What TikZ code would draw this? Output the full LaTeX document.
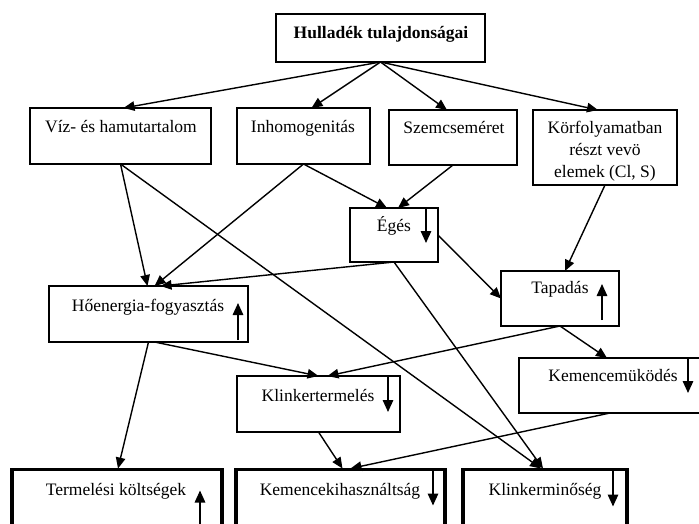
\documentclass[tikz,border=0pt]{standalone}
\usepackage{fontspec}
\setmainfont{Liberation Serif}
\usetikzlibrary{arrows.meta,calc}
\begin{document}
\begin{tikzpicture}[x=1pt,y=-1pt,
  box/.style={draw, line width=1.6pt, inner sep=0pt, outer sep=0pt},
  thickbox/.style={draw, line width=3.4pt, inner sep=0pt, outer sep=0pt},
  topbox/.style={draw, line width=2.3pt, inner sep=0pt, outer sep=0pt},
  lbl/.style={inner sep=0pt, anchor=base, font=\fontsize{17.5}{22}\selectfont},
  conn/.style={line width=1.4pt, -{Triangle[length=11pt,width=9.5pt]}},
  ind/.style={line width=1.5pt, -{Triangle[length=12pt,width=10.5pt]}}]
\useasboundingbox (0,0) rectangle (699,523);
\clip (0,0) rectangle (699,523);
% boxes
\node[topbox, minimum width=209pt, minimum height=48pt] (top) at (380.5,38) {};
\node[box, minimum width=181pt, minimum height=56pt] (viz) at (120.5,136) {};
\node[box, minimum width=133pt, minimum height=56pt] (inh) at (303.5,136) {};
\node[box, minimum width=128pt, minimum height=55pt] (szem) at (453,137.5) {};
\node[box, minimum width=144pt, minimum height=75pt] (kor) at (605,147.5) {};
\node[box, minimum width=88pt, minimum height=54pt] (eges) at (394,235) {};
\node[box, minimum width=199pt, minimum height=56pt] (hoe) at (148.5,314) {};
\node[box, minimum width=118pt, minimum height=55pt] (tap) at (560,298.5) {};
\node[box, minimum width=163pt, minimum height=56pt] (klt) at (318.5,404) {};
\node[box, minimum width=186pt, minimum height=55pt] (kem) at (612,385.5) {};
\node[thickbox, minimum width=210pt, minimum height=71pt] (ter) at (117,505) {};
\node[thickbox, minimum width=209pt, minimum height=71pt] (kki) at (340.5,505) {};
\node[thickbox, minimum width=164pt, minimum height=71pt] (klm) at (545,505) {};
% texts
\node[lbl, font=\fontsize{17.5}{22}\selectfont\bfseries] (ttop) at (381,38) {Hulladék tulajdonságai};
\node[lbl] (tviz) at (121,132) {Víz- és hamutartalom};
\node[lbl] (tinh) at (303,132) {Inhomogenitás};
\node[lbl] (tszem) at (454,133) {Szemcseméret};
\node[inner sep=0pt, align=center, font=\fontsize{17.5}{22}\selectfont] (tkor) at (605,151) {Körfolyamatban\\részt vevö\\elemek (Cl, S)};
\node[lbl] (teges) at (394,231) {Égés};
\node[lbl] (thoe) at (148,311) {Hőenergia-fogyasztás};
\node[lbl] (ttap) at (560,293) {Tapadás};
\node[lbl] (tklt) at (318,401) {Klinkertermelés};
\node[lbl] (tkem) at (613,381) {Kemencemüködés};
\node[lbl] (tter) at (116,495) {Termelési költségek};
\node[lbl] (tkki) at (340,495) {Kemencekihasználtság};
\node[lbl] (tklm) at (545,495) {Klinkerminőség};
% connectors
\draw[conn] (top.south) -- ($(viz.north)+(3,0)$);
\draw[conn] (top.south) -- ($(inh.north)+(8,0)$);
\draw[conn] (top.south) -- ($(szem.north)+(-6,0)$);
\draw[conn] (top.south) -- ($(kor.north)+(-7,0)$);
\draw[conn] (inh.south) -- ($(eges.north)+(-7,0)$);
\draw[conn] (szem.south) -- ($(eges.north)+(4,0)$);
\draw[conn] (viz.south) -- ($(hoe.north)+(-1,0)$);
\draw[conn] (inh.south) -- ($(hoe.north)+(6,0)$);
\draw[conn] (eges.south) -- ($(hoe.north)+(12,0)$);
\draw[conn] (viz.south) -- ($(klm.north)+(-4,-1)$);
\draw[conn] (eges.south) -- ($(klm.north)+(-2,-1)$);
\draw[conn] (eges.east) -- (tap.west);
\draw[conn] (kor.south) -- ($(tap.north)+(5,0)$);
\draw[conn] (tap.south) -- ($(kem.north)+(-5,0)$);
\draw[conn] (tap.south) -- ($(klt.north)+(9,0)$);
\draw[conn] ($(hoe.south)+(6,0)$) -- (klt.north);
\draw[conn] (hoe.south) -- ($(ter.north)+(1,-1)$);
\draw[conn] (klt.south) -- ($(kki.north)+(2,-1)$);
\draw[conn] ($(kem.south)+(-2,0)$) -- ($(kki.north)+(10,-1)$);
% trend arrows inside boxes
\draw[ind] ($(eges.north east)+(-12,0)$) -- ($(eges.north east)+(-12,35)$);
\draw[ind] ($(hoe.south east)+(-10,-2)$) -- ($(hoe.south east)+(-10,-39)$);
\draw[ind] ($(tap.south east)+(-17,-6)$) -- ($(tap.south east)+(-17,-42)$);
\draw[ind] ($(klt.north east)+(-12,0)$) -- ($(klt.north east)+(-12,36)$);
\draw[ind] ($(kem.north east)+(-17,0)$) -- ($(kem.north east)+(-17,35)$);
\draw[ind] ($(ter.north east)+(-22,56)$) -- ($(ter.north east)+(-22,21)$);
\draw[ind] ($(kki.north east)+(-12,0)$) -- ($(kki.north east)+(-12,36)$);
\draw[ind] ($(klm.north east)+(-14,0)$) -- ($(klm.north east)+(-14,37)$);
\end{tikzpicture}
\end{document}
